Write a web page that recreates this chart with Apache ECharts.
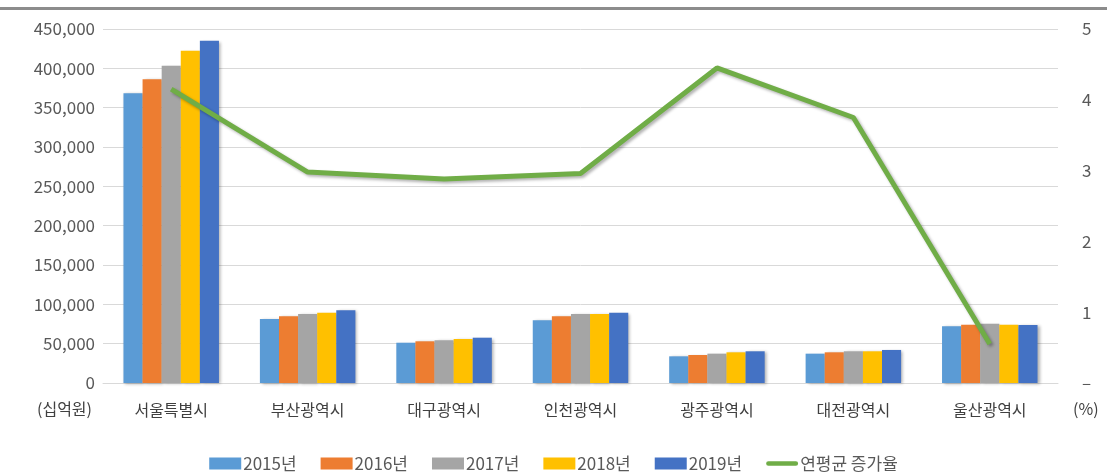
<!DOCTYPE html>
<html>
<head>
<meta charset="utf-8">
<script src="https://cdn.jsdelivr.net/npm/echarts@6/dist/echarts.min.js"></script>
<style>
  html, body { margin: 0; padding: 0; background: #fff; }
  #chart { width: 1107px; height: 474px; }
</style>
</head>
<body>
<div id="chart"></div>
<script>
const cities = ['서울특별시', '부산광역시', '대구광역시', '인천광역시', '광주광역시', '대전광역시', '울산광역시'];
const years = ['2015년', '2016년', '2017년', '2018년', '2019년'];
const v2015 = [368300, 81300, 51200, 79700, 33900, 37300, 72100];
const v2016 = [386000, 84700, 53000, 84700, 35600, 39000, 74200];
const v2017 = [403400, 87700, 54300, 87700, 37300, 40300, 75400];
const v2018 = [422500, 89400, 55900, 87700, 39000, 40300, 74200];
const v2019 = [435200, 92400, 57600, 89400, 40300, 42000, 73700];
const growth = [4.15, 2.98, 2.88, 2.96, 4.45, 3.75, 0.55];
const lineName = '연평균 증가율';

const barColors = ['#5B9BD5', '#ED7D31', '#A5A5A5', '#FFC000', '#4472C4'];
const font = '"Noto Sans CJK KR", "Noto Sans", sans-serif';

const chart = echarts.init(document.getElementById('chart'));

const barSeries = [v2015, v2016, v2017, v2018, v2019].map((d, i) => ({
  name: years[i],
  type: 'bar',
  data: d,
  barGap: '0%',
  barCategoryGap: '30%',
  itemStyle: {
    color: barColors[i],
    shadowColor: 'rgba(0,0,0,0.3)',
    shadowBlur: 3,
    shadowOffsetX: 2,
    shadowOffsetY: 1
  }
}));

chart.setOption({
  animation: false,
  textStyle: { fontFamily: font },
  grid: { left: 103, right: 49, top: 29, bottom: 91 },
  legend: {
    top: 450,
    left: 'center',
    itemWidth: 32,
    itemHeight: 12,
    itemGap: 24,
    textStyle: { color: '#595959', fontSize: 17, fontFamily: font, padding: [0, 0, 0, -3] },
    data: years.map(n => ({ name: n, icon: 'rect' })).concat([{
      name: lineName,
      icon: 'path://M2.5,0h30a2.5,2.5 0 0 1 0,5h-30a2.5,2.5 0 0 1 0,-5z'
    }])
  },
  xAxis: {
    type: 'category',
    data: cities,
    axisLine: { lineStyle: { color: '#d9d9d9' } },
    axisTick: { show: false },
    axisLabel: { color: '#404040', fontSize: 16, margin: 19 }
  },
  yAxis: [{
    type: 'value',
    min: 0, max: 450000, interval: 50000,
    axisLine: { show: false },
    axisTick: { show: false },
    splitLine: { lineStyle: { color: '#d9d9d9' } },
    axisLabel: {
      color: '#595959', fontSize: 17, margin: 8,
      formatter: v => v.toLocaleString('en-US')
    }
  }, {
    type: 'value',
    min: 0, max: 5, interval: 1,
    axisLine: { show: false },
    axisTick: { show: false },
    splitLine: { show: false },
    axisLabel: {
      color: '#595959', fontSize: 17, margin: 24,
      formatter: v => v === 0 ? '–' : String(v)
    }
  }],
  series: barSeries.concat([{
    name: lineName,
    type: 'line',
    yAxisIndex: 1,
    data: growth,
    symbol: 'none',
    z: 5,
    lineStyle: {
      color: '#70AD47',
      width: 5,
      shadowColor: 'rgba(0,0,0,0.3)',
      shadowBlur: 3,
      shadowOffsetX: 2,
      shadowOffsetY: 2
    },
    itemStyle: { color: '#70AD47' }
  }]),
  graphic: [
    { type: 'rect', left: 0, top: 7, shape: { width: 1107, height: 3 }, style: { fill: '#8c8c8c' } },
    { type: 'text', left: 37, top: 401, style: { text: '(십억원)', fill: '#404040', font: '16px ' + font } },
    { type: 'text', left: 1073, top: 401, style: { text: '(%)', fill: '#404040', font: '16px ' + font } }
  ]
});
</script>
</body>
</html>
